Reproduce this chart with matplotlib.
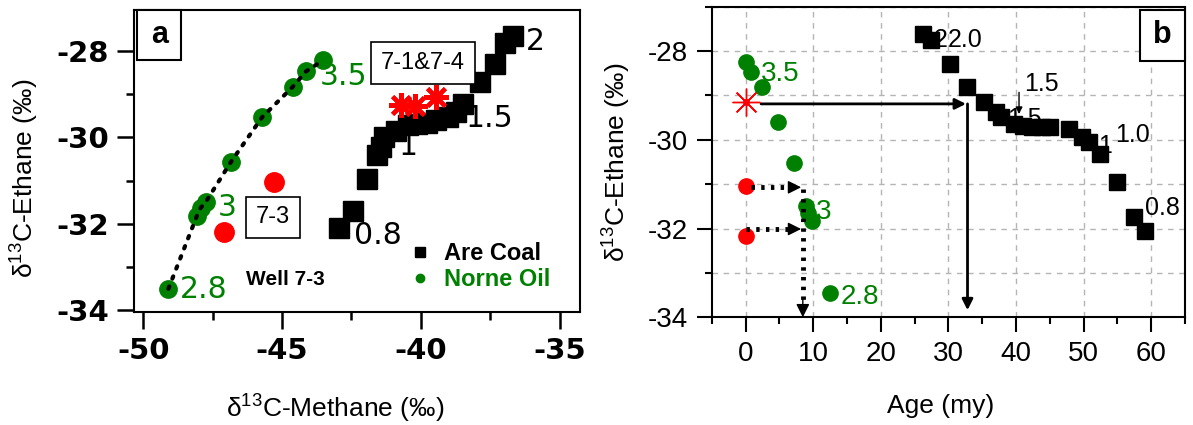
import matplotlib
matplotlib.use('Agg')
import matplotlib.pyplot as plt
from matplotlib import font_manager
from matplotlib.lines import Line2D
from matplotlib.patches import Rectangle
from matplotlib.ticker import MultipleLocator

# ---- panel a: ethane vs methane isotopes ----
coal_methane = [-36.68, -36.96, -37.31, -37.86, -38.48, -38.75, -39.03, -39.44, -39.79,
                -40.13, -40.48, -40.89, -41.31, -41.45, -41.58, -41.93, -42.45, -42.96]
coal_ethane_a = [-27.65, -27.82, -28.29, -28.71, -29.22, -29.41, -29.53, -29.60, -29.67,
                 -29.68, -29.72, -29.84, -29.99, -30.22, -30.40, -30.96, -31.70, -32.09]
oil_methane = [-49.10, -48.07, -47.93, -47.76, -46.85, -45.72, -44.62, -44.14, -43.51]
oil_ethane_a = [-33.50, -31.81, -31.62, -31.50, -30.57, -29.53, -28.83, -28.47, -28.21]
w73_methane = [-45.31, -47.10]
w73_ethane_a = [-31.02, -32.18]
w714_methane = [-40.70, -40.20, -39.45]
w714_ethane_a = [-29.25, -29.27, -29.07]

# ---- panel b: ethane vs age ----
coal_age = [26.3, 27.4, 30.3, 32.8, 35.3, 37.0, 37.8, 39.7, 41.0, 42.4,
            43.9, 45.1, 47.8, 49.8, 50.8, 52.5, 55.0, 57.4, 59.1]
coal_ethane_b = [-27.61, -27.76, -28.28, -28.80, -29.15, -29.38, -29.49, -29.64, -29.68, -29.70,
                 -29.70, -29.71, -29.75, -29.94, -30.05, -30.33, -30.96, -31.73, -32.06]
oil_age = [0.0, 0.74, 2.42, 4.87, 7.24, 9.0, 9.3, 9.8, 12.55]
oil_ethane_b = [-28.25, -28.47, -28.80, -29.60, -30.53, -31.50, -31.65, -31.82, -33.46]
w73_age = [0, 0]
w73_ethane_b = [-31.03, -32.16]
w714_age = [0]
w714_ethane_b = [-29.15]

GREEN = '#008000'
RED = '#ff0000'

names = {f.name for f in font_manager.fontManager.ttflist}
narrow = 'Liberation Sans Narrow' if 'Liberation Sans Narrow' in names else 'Liberation Sans'
plt.rcParams['mathtext.default'] = 'regular'
plt.rcParams['axes.unicode_minus'] = False

fig = plt.figure(figsize=(11.93, 4.25), dpi=100)
axa = fig.add_axes([0.1123, 0.2666, 0.3737, 0.7099])
axb = fig.add_axes([0.5966, 0.2534, 0.3967, 0.7308])

# ================= panel a =================
axa.plot(coal_methane, coal_ethane_a, 's', color='black', ms=15, zorder=4)
axa.plot(oil_methane, oil_ethane_a, 'o', color=GREEN, ms=12.5, zorder=4)
axa.plot(oil_methane, oil_ethane_a, color='black', lw=3, ls=(0, (0.6, 2.0)),
         dash_capstyle='round', zorder=5)
axa.plot(w73_methane, w73_ethane_a, 'o', color=RED, ms=14, zorder=4)
axa.plot(w714_methane, w714_ethane_a, ls='none', marker=(8, 2, 0), color=RED,
         ms=18, mew=3, zorder=6)

axa.set_xlim(-50.34, -34.27)
axa.set_ylim(-34.03, -27.05)
axa.xaxis.set_major_locator(MultipleLocator(5))
axa.xaxis.set_minor_locator(MultipleLocator(2.5))
axa.yaxis.set_major_locator(MultipleLocator(2))
axa.yaxis.set_minor_locator(MultipleLocator(1))
axa.tick_params(which='major', direction='out', length=12, width=1.8, pad=6,
                labelsize=21, labelfontfamily='DejaVu Sans')
axa.tick_params(which='minor', direction='out', length=6, width=1.8)
for lab in axa.get_xticklabels() + axa.get_yticklabels():
    lab.set_fontweight('bold')
for sp in axa.spines.values():
    sp.set_linewidth(1.5)

axa.set_xlabel('δ$^{13}$C-Methane (‰)', fontsize=19, family='Liberation Sans', va='center')
axa.xaxis.set_label_coords(0.451, -0.3225)
axa.set_ylabel('δ$^{13}$C-Ethane (‰)', fontsize=19, family='Liberation Sans', va='center')
axa.yaxis.set_label_coords(-0.2445, 0.4415)

num_a = dict(fontsize=21.5, family='DejaVu Sans', va='center', ha='left', zorder=3)
for txt, x, y in [('2.8', -48.68, -33.51), ('3', -47.31, -31.61), ('3.5', -43.65, -28.60)]:
    axa.text(x, y, txt, color=GREEN, **num_a)
for txt, x, y in [('2', -36.20, -27.79), ('1.5', -38.40, -29.57), ('1', -40.80, -30.20),
                  ('0.8', -42.40, -32.26)]:
    axa.text(x, y, txt, color='black', **num_a)

box = dict(boxstyle='square,pad=0.42', fc='white', ec='black', lw=1.2)
axa.text(-39.92, -28.27, '7-1&7-4', fontsize=17, family='Liberation Sans',
         ha='center', va='center', bbox=box, zorder=7)
axa.text(-45.33, -31.85, '7-3', fontsize=17, family='Liberation Sans',
         ha='center', va='center', bbox=box, zorder=7)
axa.text(-44.9, -33.29, 'Well 7-3', fontsize=15, family='Liberation Sans',
         weight='bold', ha='center', va='center')

axa.add_patch(Rectangle((0.0074, 0.834), 0.0987, 0.166, transform=axa.transAxes,
                        fc='white', ec='black', lw=1.5, zorder=8, clip_on=False))
axa.text(0.057, 0.917, 'a', transform=axa.transAxes, fontsize=22, weight='bold',
         family='Liberation Sans', ha='center', va='center', zorder=9)

handles = [Line2D([], [], marker='s', color='black', ls='none', ms=7),
           Line2D([], [], marker='o', color=GREEN, ls='none', ms=6)]
leg = axa.legend(handles, ['Are Coal', 'Norne Oil'], loc='lower right',
                 bbox_to_anchor=(0.96, 0.03), frameon=False, borderpad=0,
                 prop=dict(family='Liberation Sans', weight='bold', size=17),
                 handlelength=0.6, handletextpad=0.7, labelspacing=0.1)
leg.get_texts()[1].set_color(GREEN)

# ================= panel b =================
axb.set_axisbelow(True)
axb.plot(coal_age, coal_ethane_b, 's', color='black', ms=12, zorder=4)
axb.plot(oil_age, oil_ethane_b, 'o', color=GREEN, ms=11, zorder=4)
axb.plot(w73_age, w73_ethane_b, 'o', color=RED, ms=11, zorder=4)
axb.plot(w714_age, w714_ethane_b, ls='none', marker=(8, 2, 0), color=RED, ms=20, mew=1, zorder=4)
axb.plot(w714_age, w714_ethane_b, 'o', color=RED, ms=4, zorder=4)

axb.set_xlim(-5, 65)
axb.set_ylim(-34, -27)
axb.xaxis.set_major_locator(MultipleLocator(10))
axb.xaxis.set_minor_locator(MultipleLocator(5))
axb.yaxis.set_major_locator(MultipleLocator(2))
axb.yaxis.set_minor_locator(MultipleLocator(1))
axb.tick_params(which='major', direction='out', length=11, width=1.5, pad=6,
                labelsize=20, labelfontfamily=narrow)
axb.tick_params(which='minor', direction='out', length=5, width=1.5)
axb.grid(True, which='major', axis='x', color='#b4b4b4', ls=(0, (4, 4)), lw=1)
axb.grid(True, which='both', axis='y', color='#b4b4b4', ls=(0, (4, 4)), lw=1)
for sp in axb.spines.values():
    sp.set_linewidth(1.5)

axb.set_xlabel('Age (my)', fontsize=19, family='Liberation Sans', va='center')
axb.xaxis.set_label_coords(0.4845, -0.286)
axb.set_ylabel('δ$^{13}$C-Ethane (‰)', fontsize=19, family='Liberation Sans', va='center')
axb.yaxis.set_label_coords(-0.2, 0.5)

for txt, x, y in [('3.5', 2.2, -28.51), ('3', 10.44, -31.62), ('2.8', 14.1, -33.54)]:
    axb.text(x, y, txt, color=GREEN, fontsize=20, family=narrow, va='center', ha='left', zorder=3)
for txt, x, y in [('2', 27.9, -27.74), ('2.0', 29.9, -27.74), ('1.5', 41.2, -28.74),
                  ('1.5', 38.7, -29.52), ('1.0', 54.7, -29.90), ('1', 52.2, -30.13),
                  ('0.8', 59.1, -31.54)]:
    axb.text(x, y, txt, color='black', fontsize=18, family=narrow, va='center', ha='left', zorder=3)

solid = dict(arrowstyle='-|>', color='black', lw=2, mutation_scale=16, shrinkA=0, shrinkB=0)
axb.annotate('', xy=(32.6, -29.19), xytext=(2.3, -29.19), arrowprops=solid)
axb.annotate('', xy=(32.83, -33.84), xytext=(32.83, -29.19), arrowprops=solid)
axb.annotate('', xy=(40.45, -29.42), xytext=(40.45, -28.93),
             arrowprops=dict(arrowstyle='-|>', color='black', lw=1, mutation_scale=10,
                             shrinkA=0, shrinkB=0))

dot = dict(color='black', lw=3.5, ls=(0, (0.7, 1.3)), zorder=5)
axb.plot([0.8, 7.2], [-31.07, -31.07], **dot)
axb.plot([0.0, 7.2], [-32.01, -32.01], **dot)
axb.plot([8.47, 8.47], [-31.10, -33.70], **dot)
head = dict(arrowstyle='-|>', color='black', lw=1, mutation_scale=20, shrinkA=0, shrinkB=0)
axb.annotate('', xy=(8.22, -31.07), xytext=(6.8, -31.07), arrowprops=head)
axb.annotate('', xy=(8.22, -32.01), xytext=(6.8, -32.01), arrowprops=head)
axb.annotate('', xy=(8.47, -34.0), xytext=(8.47, -33.6), arrowprops=head)

axb.add_patch(Rectangle((0.905, 0.826), 0.095, 0.164, transform=axb.transAxes,
                        fc='white', ec='black', lw=1.5, zorder=8, clip_on=False))
axb.text(0.952, 0.909, 'b', transform=axb.transAxes, fontsize=22, weight='bold',
         family='Liberation Sans', ha='center', va='center', zorder=9)

fig.savefig('out.png', dpi=100)
